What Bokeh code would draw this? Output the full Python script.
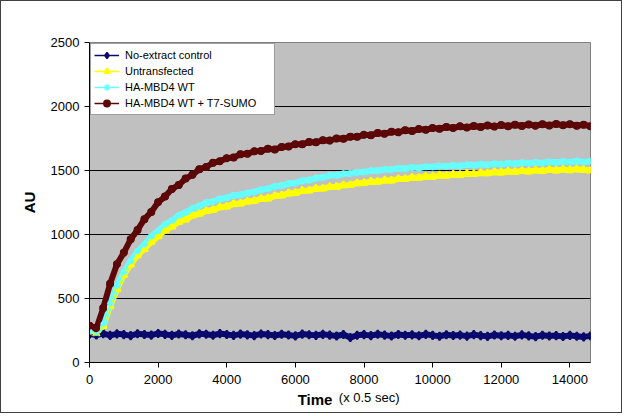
from bokeh.plotting import figure
from bokeh.layouts import column
from bokeh.models import Range1d, Legend, LegendItem, FixedTicker, LinearAxis
from bokeh.embed import file_html
from bokeh.resources import INLINE

# ---- data (time in x 0.5 s, AU) ----
time = list(range(0, 14601, 200))

no_extract = [222, 215, 226, 212, 224, 218, 210, 225, 219, 214,
              227, 220, 212, 223, 217, 209, 224, 221, 213, 226,
              219, 212, 222, 216, 210, 223, 218, 211, 221, 215,
              208, 222, 217, 212, 220, 214, 207, 219, 195, 213,
              218, 210, 221, 214, 207, 219, 213, 216, 209, 220,
              212, 205, 217, 211, 214, 206, 218, 210, 204, 215,
              209, 212, 205, 216, 208, 202, 213, 207, 210, 203,
              212, 205, 200, 208]

untransfected = [238, 228, 285, 440, 572, 684, 766, 838, 887, 943,
                 986, 1033, 1062, 1098, 1117, 1148, 1162, 1183, 1192, 1213,
                 1219, 1238, 1242, 1258, 1262, 1278, 1282, 1300, 1305, 1321,
                 1325, 1341, 1344, 1358, 1359, 1371, 1372, 1385, 1387, 1401,
                 1402, 1413, 1412, 1423, 1422, 1433, 1433, 1444, 1443, 1453,
                 1452, 1462, 1460, 1469, 1466, 1475, 1472, 1481, 1478, 1487,
                 1484, 1492, 1489, 1497, 1493, 1501, 1497, 1505, 1500, 1508,
                 1503, 1510, 1505, 1500]

mbd4_wt = [242, 236, 300, 462, 598, 708, 792, 868, 922, 984,
           1028, 1078, 1108, 1148, 1172, 1203, 1222, 1248, 1258, 1278,
           1287, 1305, 1310, 1325, 1333, 1350, 1358, 1375, 1383, 1398,
           1403, 1420, 1425, 1441, 1447, 1461, 1463, 1475, 1476, 1487,
           1488, 1499, 1498, 1508, 1507, 1517, 1515, 1523, 1520, 1529,
           1527, 1536, 1533, 1540, 1537, 1545, 1541, 1549, 1545, 1553,
           1549, 1557, 1553, 1561, 1556, 1565, 1559, 1568, 1562, 1571,
           1565, 1574, 1567, 1572]

mbd4_sumo = [288, 266, 425, 615, 768, 858, 962, 1035, 1120, 1176,
             1252, 1296, 1356, 1386, 1437, 1466, 1510, 1527, 1560, 1572,
             1596, 1602, 1626, 1631, 1650, 1652, 1670, 1664, 1684, 1688,
             1705, 1706, 1722, 1721, 1736, 1734, 1750, 1748, 1764, 1763,
             1779, 1776, 1792, 1787, 1802, 1798, 1814, 1808, 1824, 1818,
             1832, 1826, 1840, 1832, 1845, 1836, 1848, 1840, 1852, 1843,
             1855, 1846, 1858, 1848, 1860, 1850, 1862, 1852, 1864, 1853,
             1862, 1850, 1858, 1845]

series_names = ["No-extract control", "Untransfected", "HA-MBD4 WT", "HA-MBD4 WT + T7-SUMO"]
x_ticks = [0, 2000, 4000, 6000, 8000, 10000, 12000, 14000]
y_ticks = [0, 500, 1000, 1500, 2000, 2500]
x_title = "Time"
x_unit = "(x 0.5 sec)"
X_UNIT_POS = 8150   # where the unit text sits along the time axis

FONT = "Liberation Sans"

p = figure(width=620, height=411, output_backend="svg", toolbar_location=None,
           x_range=Range1d(0, 14600), y_range=Range1d(0, 2500),
           min_border_left=88, min_border_right=31, min_border_top=41, min_border_bottom=50)

p.background_fill_color = "#C0C0C0"
p.border_fill_color = "white"
p.outline_line_color = "#808080"
p.outline_line_width = 1

p.xgrid.grid_line_color = None
p.ygrid.grid_line_color = "black"
p.ygrid.grid_line_width = 1

p.xaxis.ticker = FixedTicker(ticks=x_ticks)
p.yaxis.ticker = FixedTicker(ticks=y_ticks)
for ax in (p.xaxis[0], p.yaxis[0]):
    ax.axis_line_color = "black"
    ax.major_tick_line_color = "black"
    ax.major_tick_in = 0
    ax.major_tick_out = 5
    ax.minor_tick_line_color = None
    ax.major_label_text_font = FONT
    ax.major_label_text_font_size = "13px"
    ax.major_label_text_color = "black"
p.xaxis.major_label_standoff = 7
p.yaxis.major_label_standoff = 5

p.yaxis.axis_label = "AU"
p.yaxis.axis_label_text_font = FONT
p.yaxis.axis_label_text_font_size = "15px"
p.yaxis.axis_label_text_font_style = "bold"
p.yaxis.axis_label_text_color = "black"
p.yaxis.axis_label_standoff = 10

# second (label-only) axis below: unit text as tick label, bold "Time" as axis label on same line
ax2 = LinearAxis(ticker=FixedTicker(ticks=[X_UNIT_POS]),
                 major_label_overrides={X_UNIT_POS: x_unit},
                 axis_line_color=None, major_tick_line_color=None, minor_tick_line_color=None,
                 major_tick_in=0, major_tick_out=0, major_label_standoff=3,
                 major_label_text_font=FONT, major_label_text_font_size="13px",
                 major_label_text_color="black",
                 axis_label=x_title + "\u00a0" * 12,
                 axis_label_text_font=FONT, axis_label_text_font_size="15px",
                 axis_label_text_font_style="bold", axis_label_text_color="black",
                 axis_label_standoff=-17)
p.add_layout(ax2, "below")

colors = ["#0A0A6E", "#FFFF00", "#66FFFF", "#5C0808"]
markers = ["diamond", "triangle", "asterisk", "circle"]
sizes = [8, 7, 7, 6]
data = [no_extract, untransfected, mbd4_wt, mbd4_sumo]

for ys, c, m, s in zip(data, colors, markers, sizes):
    p.line(time, ys, line_color=c, line_width=6)
    p.scatter(time, ys, marker=m, size=s, color=c, line_width=2)

items = []
for name, ys, c, m in zip(series_names, data, colors, markers):
    lr = p.line(time, ys, line_color=c, line_width=1.5)
    sr = p.scatter(time, ys, marker=m, size=6, color=c, line_width=1.5)
    items.append(LegendItem(label=name, renderers=[lr, sr]))

legend = Legend(items=items, location="top_left", margin=1, padding=3, spacing=0,
                label_height=16, glyph_height=16, glyph_width=25, label_standoff=6,
                label_width=146, label_text_font=FONT, label_text_font_size="11px",
                label_text_color="black",
                border_line_color="#404040", border_line_width=1.5,
                background_fill_color="white", background_fill_alpha=1)
p.add_layout(legend, "center")

layout = column(p, styles={"border": "1.5px solid #404040"})

open("out.html", "w").write(file_html(layout, INLINE))
